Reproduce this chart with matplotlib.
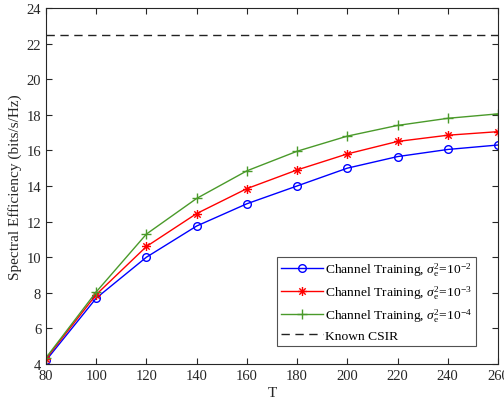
import matplotlib
matplotlib.use("Agg")
import matplotlib.pyplot as plt
from matplotlib.path import Path

plt.rcParams['font.family'] = ['Liberation Serif', 'DejaVu Serif']
plt.rcParams['mathtext.fontset'] = 'custom'
plt.rcParams['mathtext.rm'] = 'Liberation Serif'
plt.rcParams['mathtext.it'] = 'Liberation Serif:italic'

T = [80, 100, 120, 140, 160, 180, 200, 220, 240, 260]
se_1e2 = [4.2, 7.7, 10.0, 11.75, 13.0, 14.0, 15.0, 15.65, 16.05, 16.3]
se_1e3 = [4.3, 7.9, 10.6, 12.45, 13.85, 14.9, 15.8, 16.5, 16.85, 17.05]
se_1e4 = [4.35, 8.05, 11.3, 13.3, 14.85, 15.95, 16.8, 17.4, 17.8, 18.05]
csir = 22.5

# asterisk marker (MATLAB style: + and x combined)
d = 0.7071
verts = [(-1, 0), (1, 0), (0, -1), (0, 1), (-d, -d), (d, d), (-d, d), (d, -d)]
codes = [Path.MOVETO, Path.LINETO] * 4
asterisk = Path(verts, codes)

fig = plt.figure(figsize=(5.04, 4.06), dpi=100)
ax = fig.add_axes([0.0913, 0.101, 0.8967, 0.877])

ax.plot(T, se_1e2, color='#0000ff', lw=1.0, marker='o', ms=5.5, mfc='none', mew=1.0,
        label=r'Channel Training, $\sigma_{\rm e}^{2}$=10$^{-2}$')
ax.plot(T, se_1e3, color='#ff0000', lw=1.0, marker=asterisk, ms=6.5, mfc='none', mew=1.0,
        label=r'Channel Training, $\sigma_{\rm e}^{2}$=10$^{-3}$')
ax.plot(T, se_1e4, color='#4a9a2a', lw=1.0, marker='+', ms=6.5, mew=1.0,
        label=r'Channel Training, $\sigma_{\rm e}^{2}$=10$^{-4}$')
ax.axhline(csir, color='#222222', lw=1.0, ls=(0, (6, 4)), label='Known CSIR')

ax.set_xlim(80, 260)
ax.set_ylim(4, 24)
ax.set_xticks(range(80, 261, 20))
ax.set_yticks(range(4, 25, 2))
ax.tick_params(direction='in', top=True, right=True, labelsize=10.5, colors='#262626', length=4)
for s in ax.spines.values():
    s.set_color('#262626')
    s.set_linewidth(0.8)
ax.set_xlabel('T', fontsize=11, color='#262626', labelpad=3)
ax.set_ylabel('Spectral Efficiency (bits/s/Hz)', fontsize=11, color='#262626', labelpad=3)

leg = ax.legend(loc='lower right', bbox_to_anchor=(0.951, 0.05), fontsize=9.7,
                frameon=True, fancybox=False, edgecolor='#262626', handlelength=3.1,
                borderpad=0.3, labelspacing=0.4, handletextpad=0.15, borderaxespad=0)
leg.get_frame().set_linewidth(0.8)

fig.savefig('out.png', dpi=100)
